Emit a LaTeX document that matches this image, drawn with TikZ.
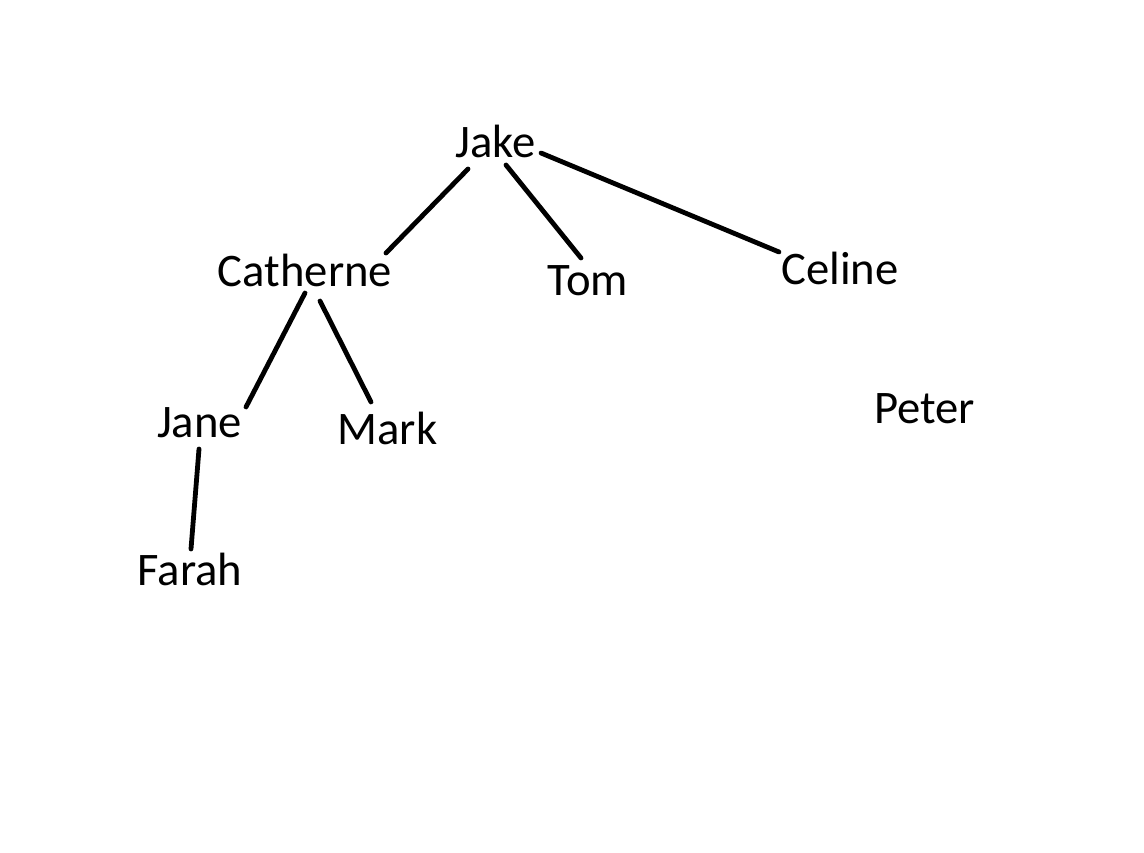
\documentclass[tikz,border=0pt]{standalone}
\usepackage{fontspec}
\setmainfont{Carlito}
\usetikzlibrary{calc}
\begin{document}
\begin{tikzpicture}[x=0.75pt,y=-0.75pt,
  lbl/.style={inner sep=0pt,anchor=base,font=\fontsize{35}{40}\selectfont},
  edge/.style={line width=3.6pt,line cap=round}]
\useasboundingbox[fill=white] (0,0) rectangle (1144,852);
\node[lbl] (jake) at (495.5,158) {Jake};
\node[lbl] (cath) at (305,286) {Catherne};
\node[lbl] (tom) at (588,295) {Tom};
\node[lbl] (celine) at (840,284) {Celine};
\node[lbl] (jane) at (199.5,437) {Jane};
\node[lbl] (mark) at (387.5,444) {Mark};
\node[lbl] (farah) at (190,585) {Farah};
\node[lbl] (peter) at (924.5,423) {Peter};
\draw[edge] ($(jake.base)+(-27.5,11)$) -- ($(cath.base)+(81,-33)$);
\draw[edge] ($(jake.base)+(10.5,7)$) -- ($(tom.base)+(-7,-37)$);
\draw[edge] ($(jake.base)+(45.5,-5)$) -- ($(celine.base)+(-61,-32)$);
\draw[edge] ($(cath.base)+(0,7)$) -- ($(jane.base)+(46.5,-30)$);
\draw[edge] ($(cath.base)+(15,15)$) -- ($(mark.base)+(-16.5,-42)$);
\draw[edge] ($(jane.base)+(-0.5,12)$) -- ($(farah.base)+(1,-36)$);
\end{tikzpicture}
\end{document}
